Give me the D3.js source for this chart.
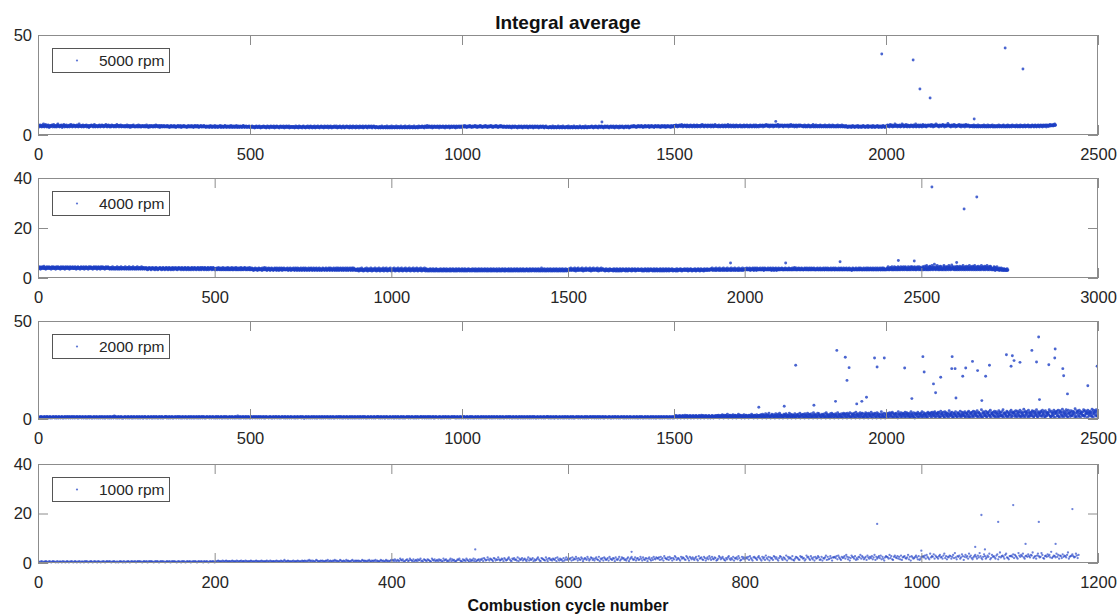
<!DOCTYPE html>
<html><head><meta charset="utf-8">
<script src="https://cdn.jsdelivr.net/npm/d3@7"></script>
<style>body{margin:0;background:#fff}svg{display:block}</style>
</head><body><svg id="chart" width="1118" height="616"></svg>
<script>
// value code: letter index in ALPHA * 0.25
const ALPHA = "abcdefghijklmnopqrstuvwxyzABCDEFGHIJKLMNOPQRSTUVWXYZ";
const STEP = 0.25;

const title = "Integral average";
const xLabel = "Combustion cycle number";
const seriesNames = ["5000 rpm", "4000 rpm", "2000 rpm", "1000 rpm"];
const xMaxes = [2500, 3000, 2500, 1200];
const yMaxes = [50, 40, 50, 40];
const xTicks5000 = [0, 500, 1000, 1500, 2000, 2500];
const xTicks4000 = [0, 500, 1000, 1500, 2000, 2500, 3000];
const xTicks2000 = [0, 500, 1000, 1500, 2000, 2500];
const xTicks1000 = [0, 200, 400, 600, 800, 1000, 1200];
const yTicks5000 = [0, 50];
const yTicks4000 = [0, 20, 40];
const yTicks2000 = [0, 50];
const yTicks1000 = [0, 20, 40];

const band5000 = [
"stqsurstqr uswrqstvsr qsturpsqts rsutqsvrsq tsrquswsrt qrstusprst vsqrtsurqs rtsqusrvts qsrutstqsr sutrqswsrt",
"rsqtsurqst srtuqsrstp qstrsutsrq stvrqsstrs qrtsusqrst urstqsrtsv srqtsusrqt sqrustsrqt rstqsvrsts qtsrusqrts",
"rsqrtsqrsu rqstrsprts qrsturqrsq rstqrsuqrt sqrqstrsrq trsqrusqrs prtsqrstrq srqtsrqust rsqrstprsq tsrqsrtqrs",
"rqsrtqrsqp rsqtrqsrqr tqrsprqrst qrsqrtqprs rqstrqrsqr prsqtrqrsq rtqrsqprst rqsrqtrspr qrstqrqsrq trsqrprsqr",
"qrspqrtqrq psrqrqtprq rsqprqsrqt qprsqrqprs tqrqpsrqrq sprqtrqpsq rqsprqrtqp qrsqprqsrq pqrtsqprqr sqprqrqspq",
"qprqsqpqrq opqrsqpqpr qsqpoqrqpq rsqpqrqopq sqrpqoqrsq pqrqpsqoqr qpsqrqpqoq rsqpqrqpsq oqrqpsqrpq qsoqpqrqpr",
"pqrqopqsqp qrpoqsqprq pqoqrsqpqp oqrqpsqpqo rqsqpqorqp qsqopqrqps qpqoqrqspq rpqoqsqprq pqsqoqrpqs qpoqrqpqsq",
"qpqsqopqrp qsqpqoqrqs pqoqprqsqp qrqopsqpqr oqsqpqrqop sqpqrqoqsq pqrpqsoqpq rqsqpqoqrs qpqrqspoqq rsqpqoqrqp",
"pqopqrpoqp sqpoqpqrpo qpsqopqpro qpqsopqprq opqpsqopqr pqoqpsqpop qrpqosqpqp orqpqsopqp qrpoqpsqpo qpqrpoqsqp",
"qrqpqsqrpq oqsrqpqtqp qrsqpqrqso qpqrsqpqrq psqrqoqsrq pqrqspqrqo qsrqpqrqsq oprqsqpqrq sqpqorsqpq rqsqpqrsqp",
"rqsrqtqrsq prqsrqrtqs rqprsqrqsr tqrqsprqrs qrtqsrqprq srqrtqsrqp rsqrqsrtqr qsprqrsqrt qrsqprqsrq trqsrqprsq",
"qrqpqsqrqp qsqrpqoqsq rqpqsqrqpq orqsqpqrqs pqoqrqsqpq rqspqoqrqs qpqrqsqopq rsqpqrqsqp oqrqsqpqrq sqpoqrqsqp",
"pqpoqpqrpq opqspqopqr qpoqpqspqo pqrqpoqspq pqoqpqrqpo sqpqopqrqp oqpsqpqopq rqpoqpqsqp qopqrqpoqp sqpqopqrqp",
"qpqrqsqpqo qrqpsqrqpq oqsqrqpqsr qpqoqrsqpq rqsqpqoqrq sqpqrqspqo qrqsqpqrqo qsqpqrqsqp qoqrqsqpqr qsqoqpqrsq",
"rsqrtqrsrq prsqrtrqsr qrtsqrprsq rtqsrqrsrt qprsrqtsrq rspqrtsrqr sqtrqrsprq trsqrsqtrp rsqrtqrsrq sprtqrsqrt",
"stsrutsqst rsutsrsvst qsrtustrsq utsrsqtsur stqsrtusqs trsuqtsrst sqtursvtsr qstusrtsqu tsrstuqsrt usqsrtvsrs",
"srtqsusrqs tsrusqrtsu rqstsrvsqt srusqtsrsu qrtsqsutrs qstrsusqrt sqsturqsts rusqtsrqsu trsqsrtusq rsutqsrstq",
"tsusrtstuq stsrutsvts rtusqtsurt stuqstrsut srtuvsqtsu rtstusrqts utsrtsustq sutrsvtsrs tusqtsrutq stsusrtust",
"srstqrsusq rtsqsrutsq rsqtsrsvqs rtqsusrqst srqsutrqsr stqrsusqrs tqsrsuqrts qrsusqtrsq srtqsurqsr tsqsrusqrt",
"rqsqrtqrqp rsqrqsrpqr tqrsqprqsr qrtqpsrqrq sprqrtqsrq prqsrqtprq srqrsqprtq rqsprqrsqt rqprsqrqsp rqtrsqprqs",
"srsutsrqsv tsrusqstrs wsrtusqsts rutqsrswts uqsrtsvrsq ustsrqtsus rtsqusrtsw qsrtsusqrt usrsqtvsrs tsurqstsus",
"tsutsrvtsu qtsrutswts utrsqtusts rtuvstsqut srtusxtsut rsqtustrsv tsuqtsrtsu tsvrstqust srutsqtvsu rtsutsqsrt",
"rsrtqsurqs rtsqrsuqrs trqsrstqsr usqrtsqrsu qrtsrqstrs uqrsqtsrqs rtqsrusqrt srqsrtuqsr sqrtsqurst qrsrtqsusr",
"srtsqrsusr qstrsqurst rsqtsrusqr stsrutqsrs tqrsutsrqs tusrqstsur sqtsutrsqt usrtsutqsu tsrtusvtsu tutsvtuwtu"
];
const outliers5000 = [[1330, 6.5], [1740, 6.8], [1990, 40.5], [2064, 37.5], [2080, 23], [2104, 18.5], [2208, 8], [2281, 43.5], [2323, 33]];

const band4000 = [
"qrpqsqoqrp qsrqpqtqpr qopqsrqpqr sqpqrqoqsq prqsqpqrqo qsqprqsqpq rqoqspqrqp sqrqpoqsqr qpqsqrqpoq srqpqrqsqp",
"pqrqsqpoqr qpsqrqpqoq rsqpqrqpsq oqrqpsqrqp qoqsqrpqsq rqpqoqrsqp qrqsqpoqrq spqrqoqsqp rqsqpqrqoq psqrqpqsrq",
"pqopqrpqop sqpqopqrpo qpqspoqpqr opqpsqopqp rqpoqpsqpo pqrqpoqspq opqrpqopsq pqopqrpoqp sqpopqrqpo pqsqpoqprq",
"popqprpopn qpoprpqpon pqprpopqpo nqprpoqpnp opqprpopqn poprqpopnp qpropqpnop rpqopnpqpo rpnpqpoprp opqnpoprqp",
"opqpnprpop qnpoprqpon pqporpnpqp opnprqpopn qprpoqpnpo prqponpqpr pnoprpqpon prqpopnpqo rpnpqpoprq pnopqrpopn",
"opnpoqpnop rpoonpqpon oprpnopqon poqpnorpon pqonpopron pqnopqponr opnqopnoqp onprpnoqpo npoqrponpo qnopqponro",
"onpoqonpnm ponoqnopon mponqonpno ponmqonpon rponoqnmpo noqponmpon qoponmnopq onpomqonpo nmqpononqp moponqonpn",
"nopnoqomnp onoqnmpono npqonmnoqp onmoqnpnom ponqnomnpo qonmnpqnoo mpnonqomnp onqpnmonoq npmonpoqnm onpnoqmnop",
"onmnoqpnon mopnqonmon pnqonmoqpn onmpnoqnom npoqnmnoqp nmonpqonmo pnqnmopnoq nmonpqnmon opqnmnopqn moqnpnomon",
"nmonpnmlno pnmonqmnon lmnopnmonq nmlonpnmon mqnolnmpon mnoqnmnlop nmonqnmlon pnmonmqnlo npmnoqnmln onpmnoqmnl",
"nonpmnoqnm lonpnmonqm nlonpnmoqn mlnonpmnoq nmlonpnmon qmnlonpnmo nqmnlonpmn oqnmlnopnm onqmnlonpm nonqmnlopn",
"mnlnomnlnp mnolnmnpml nonmlnpomn lnmonlmnpn mlonmnlpnm onlnmpnlmn onmlnpnmlo nmnpmlnonm lnpnmlonmn pnlmonmnlp",
"nmnolmnpnl mnonlmnpnm olnmnonlmp nmnolmnpml nonmlnpnmo lnmnpnlmon mnlpnmonlm npnlmonmnl pnmolnmnpn lmonmnlpnm",
"lnmnpmlnon mlnpnmonlm nplnmonmnl opnmlnmnpl nmonlmnpnm lonmnplnmo nlmnpnmlon mnplnmonlm nopnmlnmon lpnmnolmnp",
"mnonlmnpnm lonmnplnmo nlmnqnmlon mnplnmonlm npnmlonmnp lnmonlmnpn mlonmnplnm onlmnpnmlo nmnplnmonl mnpnmlonmn",
"nonpmnoqnm nonpnmonqm nlonpnmoqn mnnonpmnoq nmlonpnmon qmnnonpnmo nqmnlonpmn oqnmnnopnm onqmnlonpm nonqmnnopn",
"nmnolmnpnm mnonlmnpnm onnmnonlmp nmnolmnpnl nonmlnpnmo lnmnpnnmon mnlpnmonlm npnnmonmnl pnmonnmnpn lmonmnnpnm",
"mnonnmnpnl mnonlmnpnm onlmnpnmlo nmnpnnmonl mnpnmlonmn pnlmnonmnl pnmonlmnpn mlonmnpnlm onmnplnmon nmnpnmlonm",
"nmnolmnpnl mnonnmnpnm olnmnonnmp nmnonmnpml nonmnnpomn lnmonnmnpn mlonmnnpnm onlnmpnnmn onmlnpnmno nmnpmnnonm",
"nonpnnoqnm nonpnmonqm nnonpnmoqn mnnonpmnoq nmnonpnmon qmnnonpnmo nqmnoonpmn oqnmnnopnm onqmnnonpm nonqmnnopn",
"onpnoqonnp onoqnmpono npqonmnoqp onmoqnpnon ponqnonnpo qonmnpqnoo npnonqonnp onqpnmonoq npmonpoqnm onpnoqnnop",
"onpoqonpnn ponoqnopon nponqonpno ponnqonpon rponoqnnpo noqponnpon qoponnnopq onponqonpo nnqpononqp noponqonpn",
"nopnoqonnp onoqnnpono npqonnnoqp onnoqnpnon ponqnonnpo qonnnpqnoo npnonqonnp onqpnnonoq npnonpoqnn onpnoqnnop",
"onmnoqpnon nopnqonnon pnqonnoqpn onnpnoqnon npoqnnnoqp nnonpqonno pnqnnopnoq nnonpqnnon opqnnnopqn noqnpnonon",
"opnqosonpn qoropnsonq pnosqnorpn qonsprnoqo nsqpornosq pnorsqonpo qnsoprnoqs nprsoqnopr sonqpnorso qpnsoqrnop",
"oqnsprnoto qpnsuonqrp nostqnorpu qonsprwoqo nsqpuronsq pnotsqonpo qnsuprnoqs nprsoqnupr sonqpvorso qpnsoqrnot",
"pqnsorpntq oprnsqoupn rqosnpqtor npsqounprq sonptqrnso upnqrosnqp tornspqonu rpqsonrptq nsoqpurnos qpnrtsoqnp",
"onpqnsormn pqosnpnonq mpnonqnmpo nmnpmonnmo mnpmn"
];
const outliers4000 = [[1960, 6], [2116, 6], [2270, 6.5], [2435, 7], [2480, 6.8], [2530, 36.4], [2600, 6.2], [2621, 27.6], [2657, 32.4]];

const band2000 = [
"dedcedfdec edcdfedcde fdecdedfcd edcedfdedc dfecdedcfd edcdefdced cdfedcedfd ecdfdecdef dcedfdcede dfcedcdfed",
"edcdfedcde dfcedcdefd cedfdcedcd efdcdedfcd edcdfecded fcdedcfdce dedfcdedcf edcdefdcdg edfcdedcef dcdedfcdec",
"cdedfdcede dcfedcdedf cedcdfedcd edfcdedcfd ecdedfcdce dfedcedcdf edcdedfcde cdfedcdefd cedcdfedce dfcedcdedf",
"edfcdedcef dcdedfcdec dedfdcedef dcdfedcdec fdedcdefdc edcdfedced fcdedcfdec dedfcdedcf edcdefdcdf edcedcdfed",
"dedcfdedce dfdecdedcf edcdfedcde dfcedcdefd cedfdcedcd efdcdedfcd edcdfecded gcdedcfdce dedfcdedcf edcdefdcde",
"cdfedcedfd ecdfdecdef dcedfdcede dfcedcdfed dedcedfdec edcdfedcde fdecdedfcd edcedfdedc dfecdedcfd edcdefdced",
"eddcfedcde dfcedddefd cedfdceccd efdcdedfcd edcdfecded fcdedcfdce dedfcdedcf edcdefdcde edfcdedcef dcdedfcdec",
"dedfdcedef dcdfedcdec fdedcdefdc edcdfedced fcdedcfdec dedfcdedcf edcdefdcdf edcedcdfed cdedfdcede dcfedcdedf",
"edfcdedcfd ecdedfcdce dfedcedcdf edcdedfcde cdfedcdefd cedcdfedce dfcedcdedf dedcfdedce dfdecdedcf edcdfedcde",
"defedcedfd ecdfdecdef dcedfdcede dfcedcdfed dedcedfdec edcdfedcde fdecdedfcd edcedfdede dfecdedcfd edcdefdced",
"edcefedcde dfcedcdefd cedfdcedcd efdcdedfcd edcdfecded fcdedcfdce dedfcdedcf edcdefdcde edfcdedcef dcdedfcdec",
"dedfdcedef dcdfedcdec fdedcdefdc edcdfedced fcdedcfdec dedfcdedcf edcdefdcdf edcedcdfed cdedfdcede dcfedcdedf",
"edfcdedcfd ecdedfcdce dfedcedcdf edcdedfcde cdfedcdefd cedcdfedce dfcedcdedf dedcfdedce dfdecdedcf edcdfedcde",
"edfedcedfd ecdfdecdef dcedfdcede dfcedcdfed dedcedfdec edcdfedcde fdecdedfcd edcedfdedc dfecdedcfd edcdefdced",
"edcdfedcde dfcedcdefd cedfdcedcd efdcdedfcd edcdfecded fcdedcfdce dedfcdedcf edcdefdcde edfcdedcef dcdedfcdec",
"fegdhfecgf dfhegcfedh fgecfidefg hcfegdfhec gfdehfcgef dhgfecfdhg efcgidfehf cgefhdgfec fhdgecfdgh efcgfedhfg",
"gehdifcgeh fdgjehcfgi dehgfkdcge hifgdehcjf gedihfcgdh ekgfdhigce fhdgjecfgi hdefgcihfd gekhdfgcie hgdfjechgf",
"hfidjgeckh fidgelhcfj igdmhefcgi khdfjegchl fidgkehcmf jidghecfki dhgljfecih gmdfkhceji fdhglecfjh idkgfemchj",
"ifjdkhecli gfjdmhecki jfdlgehcnj fidkhegcmj flighdceki hjfdlgecni kfdhjegcli fmdhkjecig ljfdhnecki gjfdlheckm",
"jgkeliecmj hgkdnfecli kgejmhdcoj gkeilhfcnk gjdmlfechk jneglidcmk hgjeokfcil jhdmkgecnj hlgeikdcpj gkfemhdcli",
"kgljemhdnk igmeolfdkj lhemkgdcpk hljenigdmk jlgeokhdnl igkemjfdpk hlgenidcmk jhleokfdli kmgepjhdnk gljeimfdok",
"lhmkfnieol jhnfpkgdmk lhofnjedql hmkgoiedpl jnhfmkgdrl ihnkfoiedm lkhpgjfdnl mhkfqjgeol ihnkfpgdml khoeqjfdnl",
"mioegqkfpl jnhfrmgdom kihetlfdpm jnhgqkfeom liphfsjdnm kiohfqmgdp ljnegrkfom hipfgtkdnm jlhfqoegmk ipjdsnhfom",
"nkpfhrlgdq mjohfsngep kmifuoheqn jlpgdsmhfo knigrplefq mjohtkfdpn ilmgqohfsn kjpfdrmhgo lnkitpgfeq mhnjfsokdp",
"nlqghsmfdr okpifunheq lnjgtpkfds mloifrnhgq knpjevmgdr olqhfsnkep mjoigtqhfr lnkpdsmjgo qlnhfupkes mojqgtnhfr"
];
const outliers2000 = [[1700, 6], [1760, 6.5], [1787, 27.4], [1830, 7], [1881, 9.0], [1884, 35.0], [1904, 31.5], [1908, 19.7], [1913, 26.2],
  [1931, 7.7], [1943, 9.0], [1954, 11.1], [1973, 31.1], [1979, 26.5], [1996, 31.1], [2044, 26.0], [2061, 10.4], [2087, 31.8], [2090, 24.0],
  [2112, 17.9], [2117, 13.4], [2129, 21.3], [2155, 25.7], [2156, 31.8], [2163, 25.7], [2165, 10.7], [2181, 21.8], [2188, 26.0], [2204, 29.4],
  [2216, 24.7], [2226, 9.4], [2235, 21.8], [2244, 27.4], [2284, 32.8], [2295, 26.9], [2298, 32.3], [2302, 29.8], [2316, 28.9], [2344, 35.0],
  [2355, 29.1], [2360, 41.8], [2362, 9.9], [2384, 27.7], [2398, 31.1], [2399, 35.7], [2417, 25.7], [2419, 22.1], [2428, 12.8], [2476, 17.0], [2498, 26.9]];

const band1000 = [
"cbcdcbccdc bcdcbcdccb cdbcccbdcc bcdcbccdcb cdcbccdbcc cbdcdcbccd cbcdccbdcc bccdcbcdcc dcbccdcbcc bcdccbdcbc",
"cdcbcdcccd bcdcdccbcd ccdbcdcdcc bcdcdcbcdc dccbcdccdb cdcdccbcdc cbdcdcbcdc cdbccdcdcb cdccdcbdcc dcbcdccdcb",
"dcdedcdced cdedcddcde dcdcedcdde cddcedcdcd edcdcdedcd cdedcdcdec dcedcddcde dcdcedcdfd cdedcdcdec dcdedcdced",
"dedcedfdec edcdfedcde dedcdedfcd edcedfdedc dfecdedcfd edcdefdced ededcdfede dcedfdcede dfcedcdfed ecdfdecdef",
"efdgecfedh fegdcefgde hfedgcefdg efhdecgfed gfedchfegd efdgefcdhe fgdecfhdge fcdegfhedc gefdhfecgd fehdgcefgd",
"gfhdigefjg ehgfdihegf jgefhgdige fhjgedhgif gejdhfgieg hfdgjehfgi dgefhjgedi hgfejgdhif gehgfidjge hfgdiegjfh",
"hgiejfhgkh eigfjhdgih fkhegjifhe hjgfkdhgie jhfgiekhgf ihdjgfhkeg jhifgehjdg ikhfgjehif gkhejgfihd hjgeifkhgj",
"ihjfkgieli hgjfkhieig ljfhigekhj igfljhekig jhfikgelhi jgfkiehjgl ifkhgjiefh ljgikhfeig jlhfigkeih jgliefkhjg",
"ijhkfligej kihfjligek hjfmigkejh iflkhjgeil khfjigmekh jiglfehkji gfljkhiegm jkhfligjek hiljfgkeih jmfkghliej",
"jkilgmjhfk ijlhnkgjei mkjhlfigkj nhljgikfmj hkilgjnfkh jlimgkhejl kjhnilgfkm jilhkgmfjk lihjngkelj hikmjglfhk",
"kljmhnkigp jlkohmkjhl njkhmpilgk jmlhkniqjg lkmhjolfkn jlhpkmigjl nkhmjqligk olhjmkpgin kljhmogkrj lmkhnpjigl",
"lmkoinljhq mknlpjhlmk oljnmriklh mpljkqnihl mkolnjsikm ljpknhmlio kmljnrhklm oljkpmin"
];
const outliers1000 = [[495, 5.5], [672, 4.5], [950, 15.8], [1000, 5], [1061, 6.5], [1068, 19.4], [1072, 5.5], [1087, 16.6], [1104, 23.4],
  [1118, 7.7], [1133, 16.6], [1152, 7.7], [1171, 21.8]];

function decode(lines) {
  const s = lines.join("").replace(/\s/g, "");
  return s.split("").map((c, i) => [i + 1, ALPHA.indexOf(c) * STEP]);
}

const seriesData = [
  decode(band5000).concat(outliers5000),
  decode(band4000).concat(outliers4000),
  decode(band2000).concat(outliers2000),
  decode(band1000).concat(outliers1000)
];
const xTickSets = [xTicks5000, xTicks4000, xTicks2000, xTicks1000];
const yTickSets = [yTicks5000, yTicks4000, yTicks2000, yTicks1000];

// layout
const LEFT = 38, RIGHT = 1098;
const panelTops = [35, 178, 321, 464];
const panelBottoms = [135, 278, 419, 563];
const FONT = "'Liberation Sans', Arial, Helvetica, sans-serif";
const AXIS_COLOR = "#8c8c8c";
const TEXT_COLOR = "#262626";
const DOT_COLOR = "#1d3ec4";
const DOT_R = [1.45, 1.45, 1.45, 1.15];
const DOT_OP = [0.8, 0.8, 0.8, 0.65];

const svg = d3.select("#chart");

svg.append("text").attr("x", 568).attr("y", 29).attr("text-anchor", "middle")
  .attr("font-family", FONT).attr("font-weight", "bold").attr("font-size", 19)
  .attr("fill", "#111").text(title);
svg.append("text").attr("x", 568).attr("y", 611).attr("text-anchor", "middle")
  .attr("font-family", FONT).attr("font-weight", "bold").attr("font-size", 16)
  .attr("fill", "#111").text(xLabel);

seriesData.forEach((data, k) => {
  const top = panelTops[k], bottom = panelBottoms[k];
  const x = d3.scaleLinear().domain([0, xMaxes[k]]).range([LEFT, RIGHT]);
  const y = d3.scaleLinear().domain([0, yMaxes[k]]).range([bottom, top]);
  const g = svg.append("g");

  const clipId = "clip" + k;
  g.append("clipPath").attr("id", clipId).append("rect")
    .attr("x", LEFT).attr("y", top - 1).attr("width", RIGHT - LEFT).attr("height", bottom - top + 2);

  // points
  g.append("g").attr("clip-path", `url(#${clipId})`)
    .selectAll("circle").data(data).join("circle")
    .attr("cx", d => x(d[0])).attr("cy", d => y(d[1]))
    .attr("r", DOT_R[k])
    .attr("fill", DOT_COLOR).attr("fill-opacity", DOT_OP[k]);

  // axes (MATLAB-like inward ticks)
  const styleAxis = sel => {
    sel.select(".domain").remove();
    sel.selectAll(".tick line").attr("stroke", AXIS_COLOR);
    sel.selectAll(".tick text").attr("fill", TEXT_COLOR).attr("font-family", FONT).attr("font-size", 16.5);
  };
  g.append("g").attr("transform", `translate(0,${bottom})`)
    .call(d3.axisBottom(x).tickValues(xTickSets[k]).tickFormat(d3.format("d")).tickSize(-10).tickPadding(13))
    .call(styleAxis);
  g.append("g").attr("transform", `translate(0,${top})`)
    .call(d3.axisTop(x).tickValues(xTickSets[k]).tickFormat("").tickSize(-10))
    .call(styleAxis);
  g.append("g").attr("transform", `translate(${LEFT},0)`)
    .call(d3.axisLeft(y).tickValues(yTickSets[k]).tickFormat(d3.format("d")).tickSize(-10).tickPadding(6))
    .call(styleAxis);
  g.append("g").attr("transform", `translate(${RIGHT},0)`)
    .call(d3.axisRight(y).tickValues(yTickSets[k]).tickFormat("").tickSize(-10))
    .call(styleAxis);

  // box
  g.append("rect").attr("x", LEFT + 0.5).attr("y", top + 0.5)
    .attr("width", RIGHT - LEFT - 1).attr("height", bottom - top - 1)
    .attr("fill", "none").attr("stroke", AXIS_COLOR).attr("stroke-width", 1);

  // legend
  const lg = g.append("g").attr("transform", `translate(52,${top + 13})`);
  lg.append("rect").attr("x", 0.5).attr("y", 0.5).attr("width", 117).attr("height", 24)
    .attr("fill", "#fff").attr("stroke", "#555").attr("stroke-width", 1);
  lg.append("circle").attr("cx", 25).attr("cy", 12.5).attr("r", 1.1)
    .attr("fill", DOT_COLOR).attr("fill-opacity", 0.7);
  lg.append("text").attr("x", 47).attr("y", 18).attr("font-family", FONT)
    .attr("font-size", 15.5).attr("fill", TEXT_COLOR).text(seriesNames[k]);
});
</script></body></html>
